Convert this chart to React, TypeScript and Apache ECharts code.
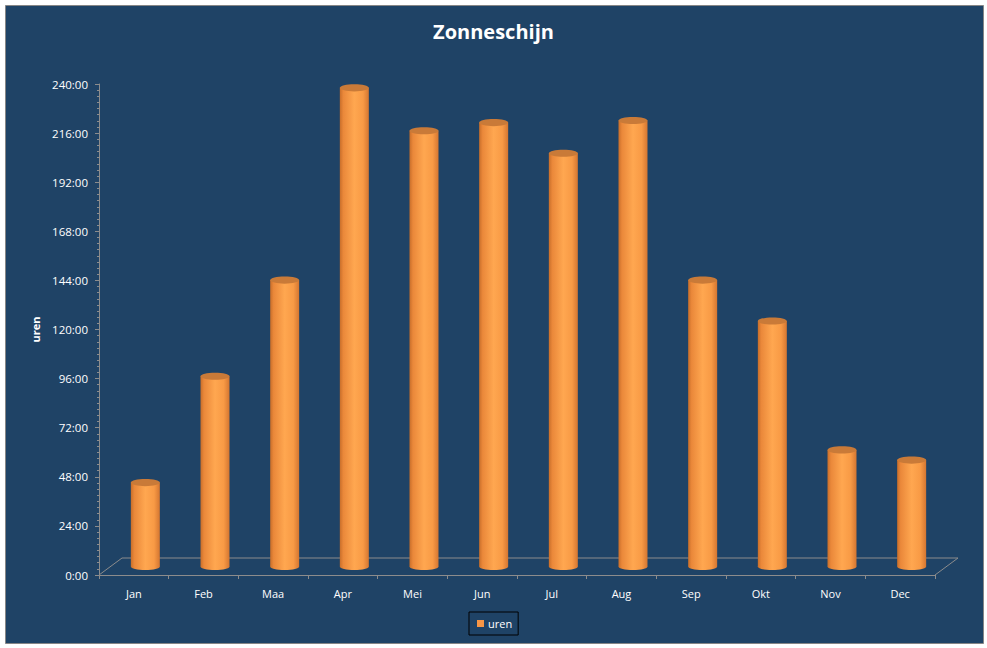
import React, { useEffect, useRef } from "react";
import * as echarts from "echarts";

const TITLE = "Zonneschijn";
const SERIES_NAME = "uren";
const AXIS_NAME = "uren";
const MONTHS = ["Jan", "Feb", "Maa", "Apr", "Mei", "Jun", "Jul", "Aug", "Sep", "Okt", "Nov", "Dec"];
const HOURS = [41, 93, 140, 234, 213, 217, 202, 218, 140, 120, 57, 52];
const Y_MIN = 0;
const Y_MAX = 240;
const Y_STEP = 24;

const BG = "#1F4366";
const DEPTH_X = 23;
const DEPTH_Y = 17;
const BAR_W = 29;
const ELL_RY = 3.6;

export default function App() {
  const ref = useRef<HTMLDivElement>(null);
  useEffect(() => {
    if (!ref.current) return;
    const chart = echarts.init(ref.current, null, { renderer: "svg" });
    const font = "'Open Sans', 'Noto Sans', sans-serif";
    const option: any = {
      animation: false,
      backgroundColor: "#ffffff",
      textStyle: { fontFamily: font },
      graphic: [
        {
          type: "rect",
          z: -10,
          silent: true,
          shape: { x: 5.5, y: 5.5, width: 978, height: 638 },
          style: { fill: BG, stroke: "#868686", lineWidth: 1 },
        },
      ],
      title: {
        text: TITLE,
        left: "center",
        top: 16,
        textStyle: { color: "#ffffff", fontSize: 20, fontWeight: "bold", fontFamily: font },
      },
      legend: {
        data: [SERIES_NAME],
        left: 469,
        top: 612,
        icon: "rect",
        itemWidth: 7,
        itemHeight: 7,
        itemGap: 5,
        padding: [6, 6, 6, 8],
        borderColor: "#000000",
        borderWidth: 1,
        textStyle: { color: "#ffffff", fontSize: 11, fontFamily: font, padding: [0, 0, 0, -1] },
      },
      grid: { left: 99, right: 52, top: 84, bottom: 73 },
      xAxis: {
        type: "category",
        data: MONTHS,
        boundaryGap: true,
        axisLine: { show: true, lineStyle: { color: "#8C8C8C", width: 1 } },
        axisTick: { show: true, inside: false, length: 4, lineStyle: { color: "#8C8C8C" } },
        axisLabel: { color: "#ffffff", fontSize: 11, margin: 13, fontFamily: font },
        splitLine: { show: false },
        z: 5,
      },
      yAxis: {
        type: "value",
        min: Y_MIN,
        max: Y_MAX,
        interval: Y_STEP,
        name: AXIS_NAME,
        nameLocation: "middle",
        nameGap: 57,
        nameTextStyle: { color: "#ffffff", fontSize: 11, fontWeight: "bold", fontFamily: font },
        axisLine: { show: true, lineStyle: { color: "#8C8C8C", width: 1 } },
        axisTick: { show: true, inside: false, length: 4, lineStyle: { color: "#8C8C8C" } },
        minorTick: { show: true, splitNumber: 8, length: 2, lineStyle: { color: "#8C8C8C" } },
        axisLabel: {
          color: "#ffffff",
          fontSize: 11.5,
          margin: 11,
          fontFamily: font,
          formatter: (v: number) => `${v}:00`,
        },
        splitLine: { show: false },
      },
      series: [
        {
          type: "custom",
          name: "floor",
          silent: true,
          z: 1,
          data: [[0, 0]],
          encode: { x: 0, y: 1 },
          renderItem: (params: any) => {
            const cs = params.coordSys;
            const x0 = cs.x;
            const x1 = cs.x + cs.width;
            const yb = cs.y + cs.height;
            const stroke = { stroke: "#8C8C8C", lineWidth: 1, fill: "none" };
            return {
              type: "group",
              children: [
                {
                  type: "polyline",
                  shape: {
                    points: [
                      [x0, yb],
                      [x0 + DEPTH_X, yb - DEPTH_Y],
                      [x1 + DEPTH_X, yb - DEPTH_Y],
                      [x1, yb],
                    ],
                  },
                  style: stroke,
                },
              ],
            };
          },
        },
        {
          type: "custom",
          name: SERIES_NAME,
          z: 3,
          itemStyle: { color: "#F79646" },
          data: HOURS.map((v, i) => [i, v]),
          encode: { x: 0, y: 1 },
          renderItem: (params: any, api: any) => {
            const idx = api.value(0);
            const v = api.value(1);
            const top = api.coord([idx, v]);
            const base = api.coord([idx, 0]);
            const cx = top[0] + DEPTH_X / 2;
            const ty = top[1] - DEPTH_Y / 2;
            const by = base[1] - DEPTH_Y / 2;
            const half = BAR_W / 2;
            const grad = () =>
              new echarts.graphic.LinearGradient(0, 0, 1, 0, [
                { offset: 0, color: "#C86E2A" },
                { offset: 0.12, color: "#EA883A" },
                { offset: 0.5, color: "#FFA750" },
                { offset: 0.8, color: "#F89A45" },
                { offset: 1, color: "#D47631" },
              ]);
            return {
              type: "group",
              children: [
                {
                  type: "ellipse",
                  shape: { cx, cy: by, rx: half, ry: ELL_RY },
                  style: { fill: grad() },
                },
                {
                  type: "rect",
                  shape: { x: cx - half, y: ty, width: BAR_W, height: by - ty },
                  style: { fill: grad() },
                },
                {
                  type: "ellipse",
                  shape: { cx, cy: ty, rx: half, ry: ELL_RY },
                  style: { fill: "#C97A38" },
                },
              ],
            };
          },
        },
      ],
    };
    chart.setOption(option);
    return () => chart.dispose();
  }, []);
  return (
    <div
      ref={ref}
      style={{ position: "fixed", left: 0, top: 0, width: 987, height: 648 }}
    />
  );
}
